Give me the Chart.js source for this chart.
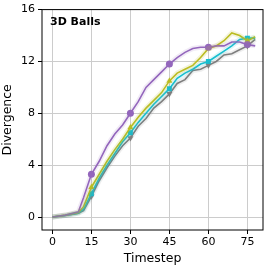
<!DOCTYPE html>
<html>
<head>
<meta charset="utf-8">
<script src="https://cdn.jsdelivr.net/npm/chart.js@4/dist/chart.umd.min.js"></script>
<style>
  html, body { margin: 0; padding: 0; background: #fff; }
  #wrap { width: 268px; height: 268px; }
</style>
</head>
<body>
<div id="wrap"><canvas id="divChart"></canvas></div>
<script>
const timesteps = [0, 5, 10, 12, 15, 18, 21, 24, 27, 30, 33, 36, 39, 42, 45, 48, 51, 54, 57, 60, 63, 66, 69, 72, 75, 78];
const purple = [0, 0.15, 0.4, 1.5, 3.3, 4.3, 5.5, 6.4, 7.1, 8.0, 8.9, 10.0, 10.6, 11.2, 11.8, 12.3, 12.7, 13.0, 13.1, 13.1, 13.2, 13.2, 13.5, 13.5, 13.3, 13.2];
const olive = [0, 0.15, 0.35, 0.8, 2.3, 3.3, 4.3, 5.2, 6.0, 6.9, 7.7, 8.4, 9.0, 9.6, 10.5, 11.1, 11.4, 11.7, 12.3, 13.0, 13.2, 13.6, 14.2, 14.0, 13.6, 13.9];
const cyan = [0, 0.12, 0.3, 0.6, 1.8, 3.0, 4.0, 4.9, 5.8, 6.5, 7.3, 8.0, 8.7, 9.3, 9.9, 10.7, 11.1, 11.4, 11.8, 12.0, 12.4, 12.8, 13.2, 13.7, 13.8, 13.8];
const gray = [0, 0.12, 0.3, 0.5, 1.6, 2.8, 3.8, 4.7, 5.5, 6.1, 7.0, 7.6, 8.4, 8.9, 9.5, 10.3, 10.6, 11.3, 11.4, 11.7, 12.0, 12.5, 12.6, 12.9, 13.2, 13.7];
const markerSteps = [15, 30, 45, 60, 75];
const xTicks = [0, 15, 30, 45, 60, 75];
const yTicks = [0, 4, 8, 12, 16];

const toPoints = (values) => timesteps.map((t, i) => ({ x: t, y: values[i] }));

const series = [
    { values: purple, color: 'rgba(148, 103, 189, 1)', band: 'rgba(148, 103, 189, 0.13)', style: 'circle', rot: 0 },
    { values: olive, color: 'rgba(188, 189, 34, 1)', band: 'rgba(188, 189, 34, 0.16)', style: 'triangle', rot: 0 },
    { values: cyan, color: 'rgba(23, 190, 207, 1)', band: 'rgba(23, 190, 207, 0.13)', style: 'rect', rot: 0 },
    { values: gray, color: 'rgba(127, 127, 127, 1)', band: 'rgba(127, 127, 127, 0.13)', style: 'triangle', rot: 180 }
];

const datasets = [];
// soft bands first, then the lines on top
series.forEach(s => {
    datasets.push({
        data: toPoints(s.values),
        borderColor: s.band,
        borderWidth: 5,
        pointRadius: 0,
        fill: false,
        tension: 0
    });
});
series.forEach(s => {
    datasets.push({
        data: toPoints(s.values),
        borderColor: s.color,
        backgroundColor: s.color,
        borderWidth: 1.6,
        pointStyle: s.style,
        rotation: s.rot,
        pointRadius: ctx => markerSteps.includes(timesteps[ctx.dataIndex]) ? 3.5 : 0,
        pointBorderWidth: 0,
        fill: false,
        tension: 0
    });
});

const frameAndLabel = {
    id: 'frameAndLabel',
    afterDraw(chart) {
        const { ctx, chartArea: a } = chart;
        ctx.save();
        ctx.strokeStyle = '#000';
        ctx.lineWidth = 1;
        ctx.strokeRect(a.left, a.top, a.right - a.left, a.bottom - a.top);
        ctx.fillStyle = '#000';
        ctx.font = 'bold 11px "DejaVu Sans"';
        ctx.textBaseline = 'alphabetic';
        ctx.fillText('3D Balls', a.left + 8, a.top + 15.5);
        ctx.restore();
    }
};

new Chart(document.getElementById('divChart').getContext('2d'), {
    type: 'line',
    data: { datasets: datasets },
    options: {
        responsive: true,
        maintainAspectRatio: false,
        animation: false,
        layout: { padding: { top: 5, right: 5, left: 0, bottom: 0 } },
        plugins: { legend: { display: false }, tooltip: { enabled: false } },
        scales: {
            x: {
                type: 'linear',
                min: -4,
                max: 81,
                afterBuildTicks: axis => { axis.ticks = xTicks.map(v => ({ value: v })); },
                afterFit: axis => { axis.height = 38; },
                grid: { color: '#cccccc', tickColor: '#000', tickLength: 4, drawTicks: true },
                border: { display: false },
                ticks: { color: '#000', font: { family: 'DejaVu Sans', size: 11 }, padding: 2, maxRotation: 0 },
                title: { display: true, text: 'Timestep', color: '#000', font: { family: 'DejaVu Sans', size: 12.5 }, padding: { top: 0, bottom: 2 } }
            },
            y: {
                min: -1,
                max: 16,
                afterBuildTicks: axis => { axis.ticks = yTicks.map(v => ({ value: v })); },
                afterFit: axis => { axis.width = 42; },
                grid: { color: '#cccccc', tickColor: '#000', tickLength: 4, drawTicks: true },
                border: { display: false },
                ticks: { color: '#000', font: { family: 'DejaVu Sans', size: 11 }, padding: 3 },
                title: { display: true, text: 'Divergence', color: '#000', font: { family: 'DejaVu Sans', size: 12.5 }, padding: { top: 0, bottom: 0 } }
            }
        }
    },
    plugins: [frameAndLabel]
});
</script>
</body>
</html>
